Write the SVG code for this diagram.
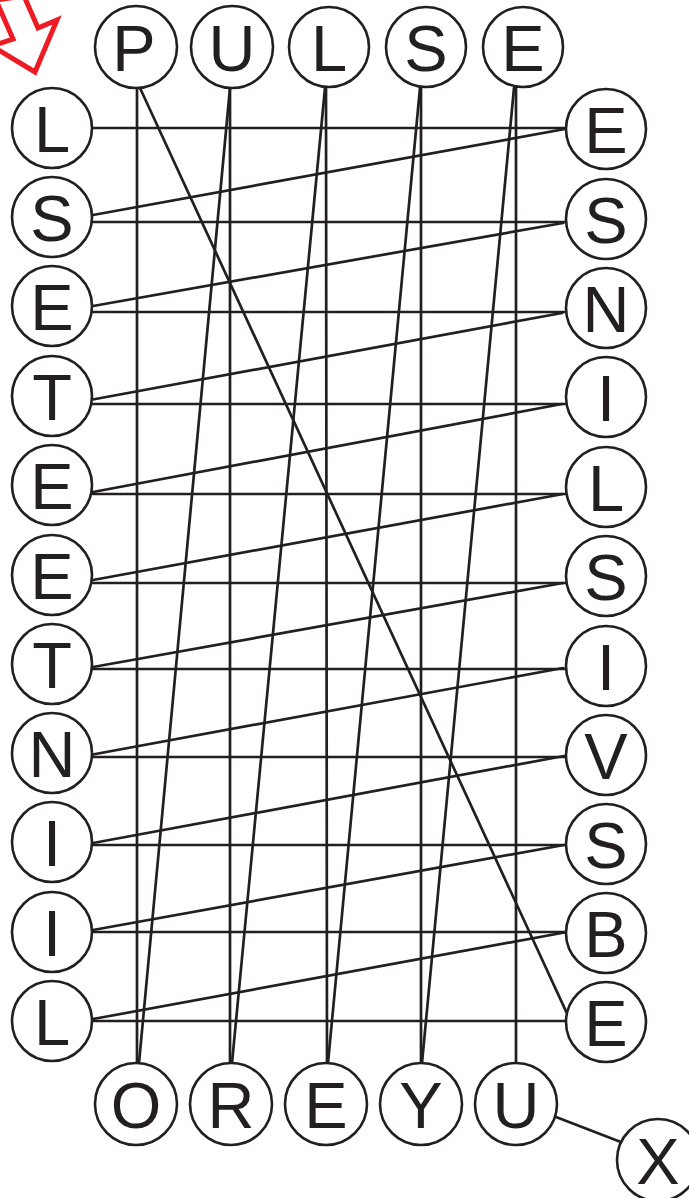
<svg xmlns="http://www.w3.org/2000/svg" width="689" height="1198" viewBox="0 0 689 1198">
<style>
.n circle{fill:#fff;stroke:#231f20;stroke-width:2.6}
.n text{font-family:"Liberation Sans","DejaVu Sans",sans-serif;font-size:65px;fill:#231f20;text-anchor:middle}
#connectors line{stroke:#231f20;stroke-width:2.7;stroke-linecap:round}
</style>
<rect width="689" height="1198" fill="#fff"/>
<polygon points="24,-4 38,28 57,20 35,72 -8,46 13,39 -4,0" fill="none" stroke="#ed1c24" stroke-width="5" stroke-linejoin="miter"/>
<g id="connectors">
<line x1="93" y1="128" x2="565" y2="128"/>
<line x1="93" y1="222" x2="565" y2="222"/>
<line x1="93" y1="312" x2="565" y2="312"/>
<line x1="93" y1="404" x2="565" y2="404"/>
<line x1="93" y1="494" x2="565" y2="494"/>
<line x1="93" y1="583" x2="565" y2="583"/>
<line x1="93" y1="669" x2="565" y2="669"/>
<line x1="93" y1="757" x2="565" y2="757"/>
<line x1="93" y1="845" x2="565" y2="845"/>
<line x1="93" y1="932" x2="565" y2="932"/>
<line x1="93" y1="1021" x2="565" y2="1021"/>
<line x1="565" y1="129" x2="93" y2="215"/>
<line x1="563" y1="223" x2="93" y2="306"/>
<line x1="562" y1="313" x2="90" y2="400"/>
<line x1="562" y1="404" x2="93" y2="492"/>
<line x1="563" y1="494" x2="93" y2="580"/>
<line x1="563" y1="583" x2="93" y2="667"/>
<line x1="563" y1="668" x2="90" y2="755"/>
<line x1="564" y1="756" x2="93" y2="843"/>
<line x1="564" y1="845" x2="93" y2="930"/>
<line x1="567" y1="932" x2="93" y2="1019"/>
<line x1="140" y1="88" x2="570" y2="1020"/>
<line x1="137" y1="88" x2="137" y2="1063"/>
<line x1="230" y1="88" x2="230" y2="1063"/>
<line x1="326" y1="88" x2="327" y2="1063"/>
<line x1="421" y1="88" x2="421" y2="1063"/>
<line x1="516" y1="88" x2="516" y2="1063"/>
<line x1="139" y1="1063" x2="230" y2="88"/>
<line x1="232" y1="1063" x2="325" y2="88"/>
<line x1="328" y1="1063" x2="420" y2="88"/>
<line x1="422" y1="1063" x2="514" y2="88"/>
<line x1="556" y1="1117" x2="626" y2="1144"/>
</g>
<g id="top-P" class="n"><circle cx="136" cy="47" r="41"/><text x="134" y="71">P</text></g>
<g id="top-U" class="n"><circle cx="232" cy="47" r="41"/><text x="232" y="71">U</text></g>
<g id="top-L" class="n"><circle cx="329" cy="47" r="40"/><text x="329" y="71">L</text></g>
<g id="top-S" class="n"><circle cx="426" cy="47" r="40"/><text x="426" y="71">S</text></g>
<g id="top-E" class="n"><circle cx="523" cy="47" r="40"/><text x="523" y="71">E</text></g>
<g id="left-L1" class="n"><circle cx="52" cy="128" r="40"/><text x="52" y="152">L</text></g>
<g id="left-S" class="n"><circle cx="52" cy="217" r="40"/><text x="52" y="241">S</text></g>
<g id="left-E1" class="n"><circle cx="52" cy="306" r="40"/><text x="52" y="330">E</text></g>
<g id="left-T1" class="n"><circle cx="52" cy="396" r="40"/><text x="52" y="420">T</text></g>
<g id="left-E2" class="n"><circle cx="52" cy="485" r="40"/><text x="52" y="509">E</text></g>
<g id="left-E3" class="n"><circle cx="52" cy="575" r="40"/><text x="52" y="599">E</text></g>
<g id="left-T2" class="n"><circle cx="52" cy="664" r="40"/><text x="52" y="688">T</text></g>
<g id="left-N" class="n"><circle cx="52" cy="753" r="40"/><text x="52" y="777">N</text></g>
<g id="left-I1" class="n"><circle cx="52" cy="842" r="40"/><text x="52" y="866">I</text></g>
<g id="left-I2" class="n"><circle cx="52" cy="932" r="40"/><text x="52" y="956">I</text></g>
<g id="left-L2" class="n"><circle cx="52" cy="1021" r="40"/><text x="52" y="1045">L</text></g>
<g id="right-E1" class="n"><circle cx="606" cy="129" r="40"/><text x="606" y="153">E</text></g>
<g id="right-S1" class="n"><circle cx="606" cy="219" r="40"/><text x="606" y="243">S</text></g>
<g id="right-N" class="n"><circle cx="606" cy="308" r="40"/><text x="606" y="332">N</text></g>
<g id="right-I1" class="n"><circle cx="606" cy="397" r="40"/><text x="606" y="421">I</text></g>
<g id="right-L" class="n"><circle cx="606" cy="487" r="40"/><text x="606" y="511">L</text></g>
<g id="right-S2" class="n"><circle cx="606" cy="576" r="40"/><text x="606" y="600">S</text></g>
<g id="right-I2" class="n"><circle cx="606" cy="666" r="40"/><text x="606" y="690">I</text></g>
<g id="right-V" class="n"><circle cx="606" cy="755" r="40"/><text x="606" y="779">V</text></g>
<g id="right-S3" class="n"><circle cx="606" cy="844" r="40"/><text x="606" y="868">S</text></g>
<g id="right-B" class="n"><circle cx="606" cy="933" r="40"/><text x="606" y="957">B</text></g>
<g id="right-E2" class="n"><circle cx="606" cy="1022" r="40"/><text x="606" y="1046">E</text></g>
<g id="bottom-O" class="n"><circle cx="136" cy="1104" r="41"/><text x="136" y="1128">O</text></g>
<g id="bottom-R" class="n"><circle cx="231" cy="1104" r="41"/><text x="231" y="1128">R</text></g>
<g id="bottom-E" class="n"><circle cx="326" cy="1104" r="41"/><text x="326" y="1128">E</text></g>
<g id="bottom-Y" class="n"><circle cx="421" cy="1104" r="41"/><text x="421" y="1128">Y</text></g>
<g id="bottom-U" class="n"><circle cx="516" cy="1104" r="41"/><text x="516" y="1128">U</text></g>
<g id="corner-X" class="n"><circle cx="658" cy="1160" r="41"/><text x="658" y="1184">X</text></g>
</svg>
